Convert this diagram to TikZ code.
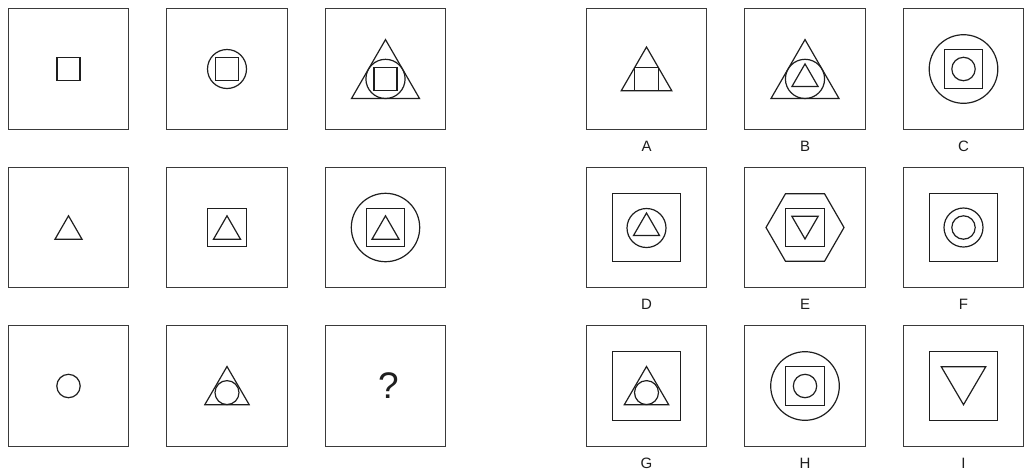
\documentclass[tikz,border=0pt]{standalone}
\usepackage{fontspec}
\setmainfont{Liberation Sans}
\usetikzlibrary{positioning,calc}
\definecolor{ink}{HTML}{1E1E1E}
\definecolor{rim}{HTML}{3A3A3A}

\begin{document}
\begin{tikzpicture}[
  x=1pt,y=-1pt,
  line cap=butt,line join=miter,
  node distance=38pt,
  panel/.style={draw=rim,line width=.9pt,minimum size=120.5pt,inner sep=0pt,outer sep=0pt},
  fig/.style={draw=ink,line width=1.2pt},
  tag/.style={font=\fontsize{15}{17}\selectfont,text=ink,inner sep=0pt}
]
\useasboundingbox[fill=white] (0,0) rectangle (1024,475);

% question grid
\node[panel] (p11) at (68.5,69) {};
\node[panel,right=of p11] (p12) {};
\node[panel,right=of p12] (p13) {};
\node[panel,below=of p11] (p21) {};
\node[panel,right=of p21] (p22) {};
\node[panel,right=of p22] (p23) {};
\node[panel,below=of p21] (p31) {};
\node[panel,right=of p31] (p32) {};
\node[panel,right=of p32] (p33) {};

% answer grid
\node[panel] (pa) at (646.5,69) {};
\node[panel,right=of pa] (pb) {};
\node[panel,right=of pb] (pc) {};
\node[panel,below=of pa] (pd) {};
\node[panel,right=of pd] (pe) {};
\node[panel,right=of pe] (pf) {};
\node[panel,below=of pd] (pg) {};
\node[panel,right=of pg] (ph) {};
\node[panel,right=of ph] (pi) {};

\node[tag] (ta) at ($(pa)+(0,77)$) {A};
\node[tag] (tb) at ($(pb)+(0,77)$) {B};
\node[tag] (tc) at ($(pc)+(0,77)$) {C};
\node[tag] (td) at ($(pd)+(0,77)$) {D};
\node[tag] (te) at ($(pe)+(0,77)$) {E};
\node[tag] (tf) at ($(pf)+(0,77)$) {F};
\node[tag] (tg) at ($(pg)+(0,77)$) {G};
\node[tag] (th) at ($(ph)+(0,77)$) {H};
\node[tag] (ti) at ($(pi)+(0,77)$) {I};

% row 1
\begin{scope}[shift={(p11)}]
  \draw[fig] (-11.5,-11.5) rectangle (11.5,11.5);
\end{scope}
\begin{scope}[shift={(p12)}]
  \draw[fig] (0,0) circle[radius=19.5];
  \draw[fig] (-11.5,-11.5) rectangle (11.5,11.5);
\end{scope}
\begin{scope}[shift={(p13)}]
  \draw[fig] (0,-29.4) -- (34,29.5) -- (-34,29.5) -- cycle;
  \draw[fig] (0,9.9) circle[radius=19.6];
  \draw[fig] (-11.5,-1.6) rectangle (11.5,21.4);
\end{scope}

% row 2
\begin{scope}[shift={(p21)}]
  \draw[fig] (0,-11.7) -- (13.5,11.7) -- (-13.5,11.7) -- cycle;
\end{scope}
\begin{scope}[shift={(p22)}]
  \draw[fig] (-19.2,-19.2) rectangle (19.2,19.2);
  \draw[fig] (0,-11.7) -- (13.5,11.7) -- (-13.5,11.7) -- cycle;
\end{scope}
\begin{scope}[shift={(p23)}]
  \draw[fig] (0,0) circle[radius=34.2];
  \draw[fig] (-19.2,-19.2) rectangle (19.2,19.2);
  \draw[fig] (0,-11.7) -- (13.5,11.7) -- (-13.5,11.7) -- cycle;
\end{scope}

% row 3
\begin{scope}[shift={(p31)}]
  \draw[fig] (0,0) circle[radius=11.7];
\end{scope}
\begin{scope}[shift={(p32)}]
  \draw[fig] (0,-19.5) -- (22.2,18.7) -- (-22.2,18.7) -- cycle;
  \draw[fig] (0,6.6) circle[radius=12];
\end{scope}
\node[font=\fontsize{37}{42}\selectfont,text=ink,inner sep=0pt] (ask) at ($(p33)+(3,0)$) {?};

% answers
\begin{scope}[shift={(pa)}]
  \draw[fig] (0,-22) -- (25.25,21.7) -- (-25.25,21.7) -- cycle;
  \draw[fig] (-11.7,-1.7) rectangle (11.7,21.7);
\end{scope}
\begin{scope}[shift={(pb)}]
  \draw[fig] (0,-29.4) -- (34,29.5) -- (-34,29.5) -- cycle;
  \draw[fig] (0,9.9) circle[radius=19.6];
  \draw[fig] (0,-5.1) -- (13,17.4) -- (-13,17.4) -- cycle;
\end{scope}
\begin{scope}[shift={(pc)}]
  \draw[fig] (0,0) circle[radius=34.3];
  \draw[fig] (-19.2,-19.2) rectangle (19.2,19.2);
  \draw[fig] (0,0) circle[radius=11.7];
\end{scope}
\begin{scope}[shift={(pd)}]
  \draw[fig] (-34.2,-34.2) rectangle (34.2,34.2);
  \draw[fig] (0,0.5) circle[radius=19.5];
  \draw[fig] (0,-14.5) -- (13,8) -- (-13,8) -- cycle;
\end{scope}
\begin{scope}[shift={(pe)}]
  \draw[fig] (-39,0) -- (-19.5,-33.8) -- (19.5,-33.8) -- (39,0)
    -- (19.5,33.8) -- (-19.5,33.8) -- cycle;
  \draw[fig] (-19.2,-19.2) rectangle (19.2,19.2);
  \draw[fig] (-13.2,-11.3) -- (13.2,-11.3) -- (0,11.5) -- cycle;
\end{scope}
\begin{scope}[shift={(pf)}]
  \draw[fig] (-34.2,-34.2) rectangle (34.2,34.2);
  \draw[fig] (0,0) circle[radius=19.5];
  \draw[fig] (0,0) circle[radius=11.7];
\end{scope}
\begin{scope}[shift={(pg)}]
  \draw[fig] (-34.2,-34.2) rectangle (34.2,34.2);
  \draw[fig] (0,-19.5) -- (22.2,18.7) -- (-22.2,18.7) -- cycle;
  \draw[fig] (0,6.6) circle[radius=12];
\end{scope}
\begin{scope}[shift={(ph)}]
  \draw[fig] (0,0) circle[radius=34.3];
  \draw[fig] (-19.2,-19.2) rectangle (19.2,19.2);
  \draw[fig] (0,0) circle[radius=11.7];
\end{scope}
\begin{scope}[shift={(pi)}]
  \draw[fig] (-34.2,-34.2) rectangle (34.2,34.2);
  \draw[fig] (-22.2,-19.2) -- (22.2,-19.2) -- (0,18.7) -- cycle;
\end{scope}
\end{tikzpicture}
\end{document}
